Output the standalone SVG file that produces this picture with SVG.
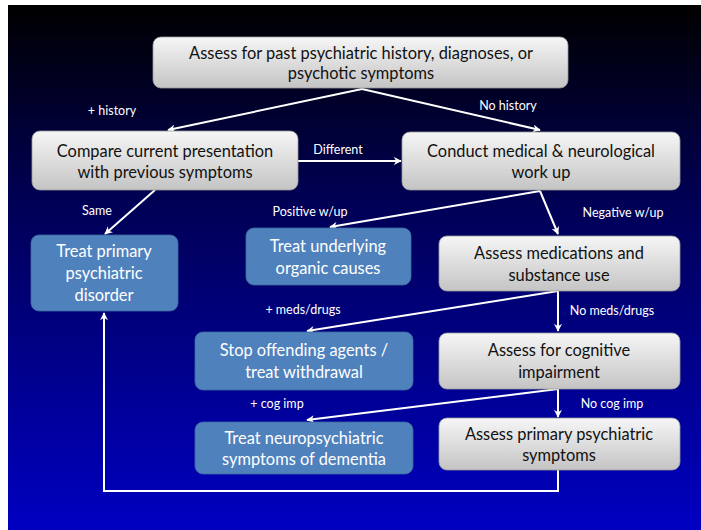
<svg xmlns="http://www.w3.org/2000/svg" width="701" height="530" viewBox="0 0 701 530">
<defs>
<linearGradient id="bg" x1="0" y1="0" x2="0" y2="1">
<stop offset="0" stop-color="#000000"/>
<stop offset="0.35" stop-color="#000050"/>
<stop offset="1" stop-color="#0000c2"/>
</linearGradient>
<linearGradient id="gray" x1="0" y1="0" x2="0" y2="1">
<stop offset="0" stop-color="#f6f6f6"/>
<stop offset="1" stop-color="#c4c4c4"/>
</linearGradient>
<marker id="ah" viewBox="0 0 10 10" refX="9" refY="5" markerWidth="8" markerHeight="8" markerUnits="userSpaceOnUse" orient="auto">
<path d="M0,0 L10,5 L0,10 L3,5 Z" fill="#ffffff"/>
</marker>
<style>
.g rect{fill:url(#gray);stroke:#9a9a9a;stroke-width:0.8}
.b rect{fill:#4f81bd;stroke:#3d6aa0;stroke-width:0.8}
.g text{fill:#111111}
.b text{fill:#ffffff}
text{font-family:Lato,"Open Sans","Liberation Sans",sans-serif;font-size:16.4px;text-anchor:middle}
.lbl{font-size:12.5px;fill:#ffffff}
.c path,.c line,.c polyline{stroke:#ffffff;stroke-width:2;fill:none}
</style>
</defs>
<rect x="0" y="0" width="701" height="530" fill="#ffffff"/>
<rect x="8" y="5" width="693" height="525" fill="url(#bg)"/>

<g class="c" id="connectors">
<line x1="362" y1="89" x2="168" y2="130" marker-end="url(#ah)"/>
<line x1="362" y1="89" x2="540" y2="130" marker-end="url(#ah)"/>
<line x1="298" y1="161" x2="401" y2="161" marker-end="url(#ah)"/>
<line x1="155" y1="190" x2="105" y2="234" marker-end="url(#ah)"/>
<line x1="540" y1="191" x2="330" y2="227" marker-end="url(#ah)"/>
<line x1="540" y1="191" x2="558" y2="234" marker-end="url(#ah)"/>
<line x1="558" y1="291" x2="307" y2="331" marker-end="url(#ah)"/>
<line x1="558" y1="291" x2="558" y2="331" marker-end="url(#ah)"/>
<line x1="558" y1="389" x2="307" y2="420" marker-end="url(#ah)"/>
<line x1="558" y1="389" x2="558" y2="417" marker-end="url(#ah)"/>
<polyline points="558,470 558,491 104,491 104,313" marker-end="url(#ah)"/>
</g>

<g id="labels">
<text class="lbl" x="112" y="115">+ history</text>
<text class="lbl" x="508" y="110">No history</text>
<text class="lbl" x="338" y="154">Different</text>
<text class="lbl" x="97" y="215">Same</text>
<text class="lbl" x="310" y="216">Positive w/up</text>
<text class="lbl" x="623" y="217">Negative w/up</text>
<text class="lbl" x="303" y="314">+ meds/drugs</text>
<text class="lbl" x="612" y="315">No meds/drugs</text>
<text class="lbl" x="277" y="408">+ cog imp</text>
<text class="lbl" x="612" y="408">No cog imp</text>
</g>

<g id="n1" class="g"><rect x="153" y="37" width="415" height="51" rx="8"/>
<text x="361" y="59">Assess for past psychiatric history, diagnoses, or</text>
<text x="361" y="79">psychotic symptoms</text></g>

<g id="n2" class="g"><rect x="32" y="131" width="266" height="59" rx="8"/>
<text x="165" y="157">Compare current presentation</text>
<text x="165" y="178">with previous symptoms</text></g>

<g id="n3" class="g"><rect x="402" y="132" width="278" height="58" rx="8"/>
<text x="541" y="157">Conduct medical &amp; neurological</text>
<text x="541" y="178">work up</text></g>

<g id="n4" class="b"><rect x="31" y="235" width="147" height="76" rx="8"/>
<text x="104" y="257">Treat primary</text>
<text x="104" y="279">psychiatric</text>
<text x="104" y="301">disorder</text></g>

<g id="n5" class="b"><rect x="246" y="228" width="165" height="57" rx="8"/>
<text x="328" y="252">Treat underlying</text>
<text x="328" y="274">organic causes</text></g>

<g id="n6" class="g"><rect x="439" y="236" width="241" height="55" rx="8"/>
<text x="559" y="259">Assess medications and</text>
<text x="559" y="281">substance use</text></g>

<g id="n7" class="b"><rect x="195" y="332" width="218" height="58" rx="8"/>
<text x="304" y="356">Stop offending agents /</text>
<text x="304" y="378">treat withdrawal</text></g>

<g id="n8" class="g"><rect x="439" y="333" width="241" height="56" rx="8"/>
<text x="559" y="356">Assess for cognitive</text>
<text x="559" y="378">impairment</text></g>

<g id="n9" class="b"><rect x="195" y="422" width="218" height="52" rx="8"/>
<text x="304" y="444">Treat neuropsychiatric</text>
<text x="304" y="465">symptoms of dementia</text></g>

<g id="n10" class="g"><rect x="439" y="418" width="241" height="52" rx="8"/>
<text x="559" y="440">Assess primary psychiatric</text>
<text x="559" y="461">symptoms</text></g>
</svg>
